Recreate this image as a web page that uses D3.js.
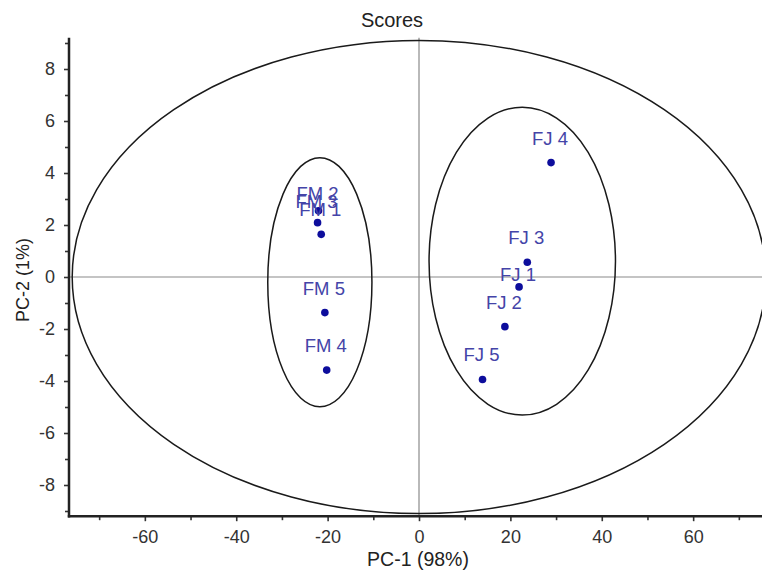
<!DOCTYPE html>
<html>
<head>
<meta charset="utf-8">
<script src="https://cdn.jsdelivr.net/npm/d3@7/dist/d3.min.js"></script>
<style>
  html, body { margin: 0; padding: 0; background: #fff; }
  svg { display: block; font-family: Arial, "Liberation Sans", sans-serif; }
</style>
</head>
<body>
<svg id="chart" width="762" height="572"></svg>
<script>
// PCA score values
const sampleNames = ["FM 2", "FM 3", "FM 1", "FM 5", "FM 4", "FJ 4", "FJ 3", "FJ 1", "FJ 2", "FJ 5"];
const pc1Scores   = [-22.0, -22.2, -21.4, -20.6, -20.2, 28.9, 23.7, 21.9, 18.8, 13.9];
const pc2Scores   = [2.55, 2.09, 1.64, -1.37, -3.58, 4.40, 0.57, -0.38, -1.91, -3.94];

// Ellipses: Hotelling T2 bound and the two group outlines
const ellipseNames = ["T2", "FM", "FJ"];
const ellipseCx    = [0, -21.7, 22.6];
const ellipseCy    = [0, -0.2, 0.61];
const ellipseRx    = [75.9, 11.4, 20.4];
const ellipseRy    = [9.1, 4.79, 5.92];

// Axis ticks
const xMajorTicks = [-60, -40, -20, 0, 20, 40, 60];
const xMinorTicks = [-70, -50, -30, -10, 10, 30, 50, 70];
const yMajorTicks = [-8, -6, -4, -2, 0, 2, 4, 6, 8];
const yMinorTicks = [-9, -7, -5, -3, -1, 1, 3, 5, 7, 9];

const titleText = "Scores";
const xLabelText = "PC-1 (98%)";
const yLabelText = "PC-2 (1%)";

const svg = d3.select("#chart");

const plotLeft = 69, plotRight = 769, plotTop = 37.8, plotBottom = 516.2;
const x = d3.scaleLinear().domain([-76.6, 76.6]).range([plotLeft, plotRight]);
const y = d3.scaleLinear().domain([-9.2, 9.2]).range([plotBottom, plotTop]);

// zero cross lines
svg.append("line")
  .attr("x1", x(0)).attr("x2", x(0))
  .attr("y1", plotTop).attr("y2", plotBottom)
  .attr("stroke", "#8a8a8a").attr("stroke-width", 1.2);
svg.append("line")
  .attr("x1", plotLeft).attr("x2", plotRight)
  .attr("y1", y(0)).attr("y2", y(0))
  .attr("stroke", "#8a8a8a").attr("stroke-width", 1.2);

// ellipses
const ellipses = ellipseNames.map((n, i) => ({
  name: n, cx: ellipseCx[i], cy: ellipseCy[i], rx: ellipseRx[i], ry: ellipseRy[i]
}));
svg.append("g").selectAll("ellipse")
  .data(ellipses)
  .join("ellipse")
  .attr("cx", d => x(d.cx))
  .attr("cy", d => y(d.cy))
  .attr("rx", d => x(d.cx + d.rx) - x(d.cx))
  .attr("ry", d => y(d.cy) - y(d.cy + d.ry))
  .attr("fill", "none")
  .attr("stroke", "#1a1a1a")
  .attr("stroke-width", 1.5);

// axes (plain hyphen for negative numbers)
const plainNum = d => String(d);
const xAxisMajor = d3.axisBottom(x).tickValues(xMajorTicks).tickSize(5).tickPadding(9).tickFormat(plainNum);
const xAxisMinor = d3.axisBottom(x).tickValues(xMinorTicks).tickSize(4).tickFormat("");
const yAxisMajor = d3.axisLeft(y).tickValues(yMajorTicks).tickSize(5).tickPadding(9).tickFormat(plainNum);
const yAxisMinor = d3.axisLeft(y).tickValues(yMinorTicks).tickSize(4).tickFormat("");

function styleAxis(g) {
  g.select(".domain").remove();
  g.selectAll(".tick line").attr("stroke", "#333").attr("stroke-width", 1.6);
  g.selectAll(".tick text").attr("fill", "#333").attr("font-size", 18)
    .attr("font-family", "Arial, 'Liberation Sans', sans-serif");
}

svg.append("g").attr("transform", `translate(0,${plotBottom})`).call(xAxisMajor).call(styleAxis);
svg.append("g").attr("transform", `translate(0,${plotBottom})`).call(xAxisMinor).call(styleAxis);
svg.append("g").attr("transform", `translate(${plotLeft},0)`).call(yAxisMajor).call(styleAxis);
svg.append("g").attr("transform", `translate(${plotLeft},0)`).call(yAxisMinor).call(styleAxis);

// axis lines
svg.append("line")
  .attr("x1", plotLeft).attr("x2", plotLeft)
  .attr("y1", plotTop).attr("y2", plotBottom + 1.2)
  .attr("stroke", "#222").attr("stroke-width", 2.5);
svg.append("line")
  .attr("x1", plotLeft - 1.2).attr("x2", plotRight)
  .attr("y1", plotBottom).attr("y2", plotBottom)
  .attr("stroke", "#222").attr("stroke-width", 2.5);

// points
const points = sampleNames.map((n, i) => ({ name: n, pc1: pc1Scores[i], pc2: pc2Scores[i] }));

svg.append("g").selectAll("circle")
  .data(points)
  .join("circle")
  .attr("cx", d => x(d.pc1))
  .attr("cy", d => y(d.pc2))
  .attr("r", 3.8)
  .attr("fill", "#0d0d9c");

// label placement: above each point, moved closer where neighbours crowd
const labelShift = { "FM 2": 7, "FM 3": 3.5, "FJ 1": 12.5 };
svg.append("g").selectAll("text")
  .data(points)
  .join("text")
  .attr("x", d => x(d.pc1) - 1)
  .attr("y", d => y(d.pc2) - 18 + (labelShift[d.name] || 0))
  .attr("text-anchor", "middle")
  .attr("font-size", 18.5)
  .attr("fill", "#4444a8")
  .text(d => d.name);

// title and axis labels
svg.append("text")
  .attr("x", 392).attr("y", 27)
  .attr("text-anchor", "middle")
  .attr("font-size", 20)
  .attr("fill", "#222")
  .text(titleText);

svg.append("text")
  .attr("x", 418).attr("y", 566)
  .attr("text-anchor", "middle")
  .attr("font-size", 19.5)
  .attr("fill", "#222")
  .text(xLabelText);

svg.append("text")
  .attr("transform", "translate(29,280) rotate(-90)")
  .attr("text-anchor", "middle")
  .attr("font-size", 18)
  .attr("fill", "#222")
  .text(yLabelText);
</script>
</body>
</html>
